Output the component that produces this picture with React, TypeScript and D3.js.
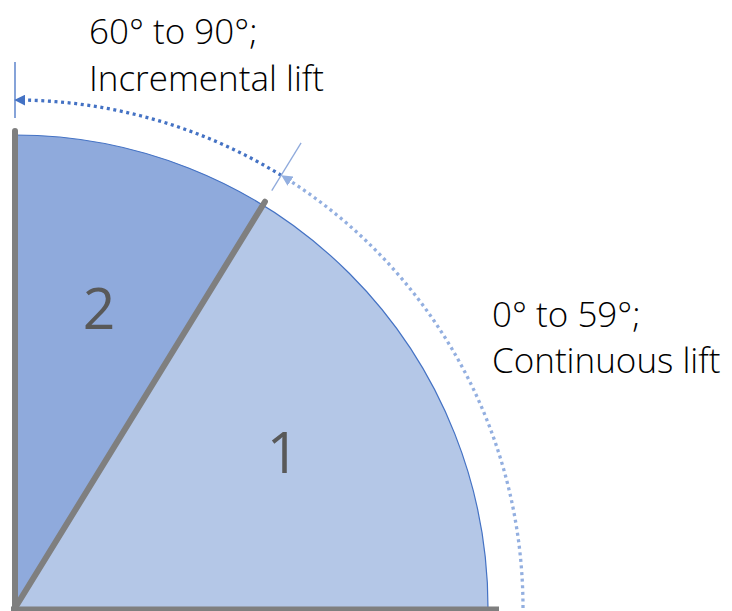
import React from "react";
import * as d3 from "d3";

// Sectors: angle in degrees measured from the horizontal axis, counter-clockwise
const sectorLabels = ["1", "2"];
const sectorStarts = [0, 58.4];
const sectorEnds = [58.4, 90];
const sectorColors = ["#b4c7e7", "#8faadc"];

// Range annotations
const rangeStarts = [0, 58.4];
const rangeEnds = [58.4, 90];
const rangeColors = ["#93afe0", "#4472c4"];
const rangeTextLines = [
  ["0° to 59°;", "Continuous lift"],
  ["60° to 90°;", "Incremental lift"],
];

const W = 732;
const H = 611;
const cx = 15;
const cy = 608;
const R = 473;
const Rdot = 508;
const FONT = "'Open Sans', 'Noto Sans', sans-serif";

const rad = (deg: number) => (deg * Math.PI) / 180;
const px = (r: number, deg: number) => cx + r * Math.cos(rad(deg));
const py = (r: number, deg: number) => cy - r * Math.sin(rad(deg));

export default function App() {
  const arcGen = d3
    .arc<{ s: number; e: number }>()
    .innerRadius(0)
    .outerRadius(R)
    .startAngle((d) => Math.PI / 2 - rad(d.e))
    .endAngle((d) => Math.PI / 2 - rad(d.s));

  const outline = d3.path();
  outline.arc(cx, cy, R, 0, -Math.PI / 2, true);

  const dotted = rangeStarts.map((s, i) => {
    const p = d3.path();
    const e = rangeEnds[i] - (i === 0 ? 1.0 : 0.9);
    p.arc(cx, cy, Rdot, -rad(s), -rad(e), true);
    return p.toString();
  });

  const labelPos = [
    { x: 283, y: 473 },
    { x: 99, y: 329 },
  ];
  const textPos = [
    { x: 492, y1: 327, y2: 373 },
    { x: 89, y1: 44, y2: 91 },
  ];

  return (
    <svg
      width={W}
      height={H}
      style={{ position: "absolute", left: 0, top: 0, background: "#fff" }}
    >
      <defs>
        {rangeColors.map((c, i) => (
          <marker
            key={i}
            id={`arr${i}`}
            viewBox="0 0 10 10"
            refX={2}
            refY={5}
            markerWidth={11}
            markerHeight={11}
            markerUnits="userSpaceOnUse"
            orient="auto"
          >
            <path d="M0,0 L10,5 L0,10 Z" fill={c} />
          </marker>
        ))}
      </defs>
      {sectorLabels.map((l, i) => (
        <path
          key={l}
          d={arcGen({ s: sectorStarts[i], e: sectorEnds[i] }) || ""}
          transform={`translate(${cx},${cy})`}
          fill={sectorColors[i]}
        />
      ))}
      <path d={outline.toString()} fill="none" stroke="#4472c4" strokeWidth={1.2} />
      {/* boundary lines */}
      <line x1={cx - 4} y1={cy + 1} x2={px(484, 0)} y2={cy + 1} stroke="#7f7f7f" strokeWidth={5} />
      {[58.4, 90].map((a) => (
        <line
          key={a}
          x1={cx}
          y1={cy}
          x2={px(477, a)}
          y2={py(477, a)}
          stroke="#7f7f7f"
          strokeWidth={6}
          strokeLinecap="round"
        />
      ))}
      {/* range dotted arcs */}
      {dotted.map((d, i) => (
        <path
          key={i}
          d={d}
          fill="none"
          stroke={rangeColors[i]}
          strokeWidth={3.3}
          strokeDasharray="3 3.6"
          markerEnd={`url(#arr${i})`}
        />
      ))}
      {/* range tick lines */}
      {rangeEnds.map((a, i) => (
        <line
          key={i}
          x1={px(490, a)}
          y1={py(490, a)}
          x2={px(546, a)}
          y2={py(546, a)}
          stroke={i === 0 ? "#8faadc" : "#4472c4"}
          strokeWidth={1.3}
        />
      ))}
      {/* sector labels */}
      {sectorLabels.map((l, i) => (
        <text
          key={l}
          x={labelPos[i].x}
          y={labelPos[i].y}
          textAnchor="middle"
          fontFamily={FONT}
          fontWeight={400}
          fontSize={57}
          fill="#595959"
        >
          {l}
        </text>
      ))}
      {/* range texts */}
      {rangeTextLines.map((lines, i) => (
        <g key={i} fontFamily={FONT} fontWeight={300} fontSize={35} fill="#000">
          <text x={textPos[i].x} y={textPos[i].y1}>{lines[0]}</text>
          <text x={textPos[i].x} y={textPos[i].y2}>{lines[1]}</text>
        </g>
      ))}
    </svg>
  );
}
